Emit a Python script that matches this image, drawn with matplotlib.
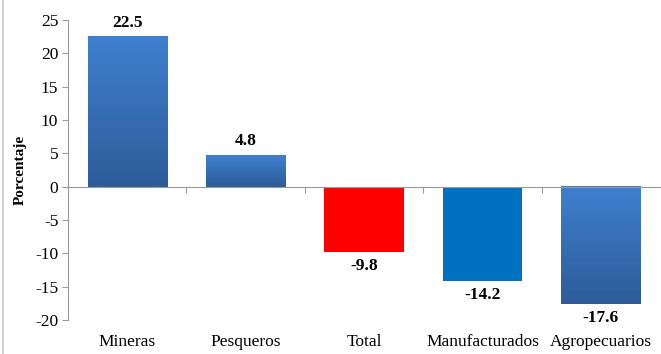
import numpy as np
import matplotlib
matplotlib.use("Agg")
import matplotlib.pyplot as plt
from matplotlib.colors import LinearSegmentedColormap
from matplotlib.transforms import blended_transform_factory

categories = ["Mineras", "Pesqueros", "Total", "Manufacturados", "Agropecuarios"]
values = [22.5, 4.8, -9.8, -14.2, -17.6]
labels = ["22.5", "4.8", "-9.8", "-14.2", "-17.6"]
yticks = [-20, -15, -10, -5, 0, 5, 10, 15, 20, 25]

# fill style per bar: gradient or a flat colour
fills = ["gradient", "gradient", "#ff0000", "#0070c0", "gradient"]

plt.rcParams["font.family"] = ["Liberation Serif", "DejaVu Serif"]

W, H = 661, 354
fig = plt.figure(figsize=(W / 100, H / 100), dpi=100)
ax = fig.add_axes([68 / W, 1 - 320 / H, (660 - 68) / W, 300 / H])

x = np.arange(len(categories))
width = 0.67
bars = ax.bar(x, values, width=width, color="none", edgecolor="none", zorder=2)

grad = LinearSegmentedColormap.from_list("blue_grad", ["#2d5c98", "#3f80cf"])
gimg = np.linspace(0, 1, 256).reshape(-1, 1)

for b, f in zip(bars, fills):
    x0 = b.get_x()
    x1 = x0 + b.get_width()
    y0 = min(b.get_y(), b.get_y() + b.get_height())
    y1 = max(b.get_y(), b.get_y() + b.get_height())
    if f == "gradient":
        ax.imshow(gimg, cmap=grad, aspect="auto", origin="lower",
                  extent=(x0, x1, y0, y1), zorder=2, interpolation="bilinear")
    else:
        ax.add_patch(plt.Rectangle((x0, y0), x1 - x0, y1 - y0,
                                   facecolor=f, edgecolor="none", zorder=2))

for xi, v, t in zip(x, values, labels):
    if v >= 0:
        ax.annotate(t, (xi, v), xytext=(0, 4), textcoords="offset points",
                    ha="center", va="bottom", fontsize=12.5, fontweight="bold")
    else:
        ax.annotate(t, (xi, v), xytext=(0, -4), textcoords="offset points",
                    ha="center", va="top", fontsize=12.5, fontweight="bold")

ax.set_xlim(-0.5, len(categories) - 0.5)
ax.set_ylim(-20, 25)
ax.set_yticks(yticks)
ax.set_yticklabels([str(t) for t in yticks], fontsize=12.5)

# category boundaries as ticks on the zero line
ax.set_xticks(np.arange(len(categories) - 1) + 0.5)
ax.set_xticklabels([])
ax.tick_params(axis="x", direction="out", length=4, color="#999999")
ax.tick_params(axis="y", direction="out", length=4, color="#999999", pad=3)

trans = blended_transform_factory(ax.transData, ax.transAxes)
for xi, c in zip(x, categories):
    ax.text(xi, -0.045, c, transform=trans, ha="center", va="top", fontsize=12.5)

for s in ["top", "right"]:
    ax.spines[s].set_visible(False)
ax.spines["bottom"].set_position(("data", 0))
ax.spines["bottom"].set_color("#999999")
ax.spines["left"].set_color("#999999")

ax.set_ylabel("Porcentaje", fontsize=11, fontweight="bold", labelpad=6)

# outer frame line on the left edge
fig.add_artist(plt.Line2D([3 / W, 3 / W], [0, 1], color="#c8c8c8", lw=1.2))

fig.savefig("out.png", dpi=100)
